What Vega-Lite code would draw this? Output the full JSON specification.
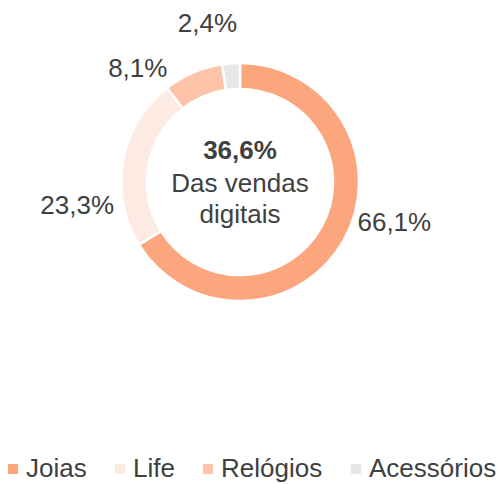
{
  "$schema": "https://vega.github.io/schema/vega-lite/v6.json",
  "width": 480,
  "height": 364,
  "padding": 0,
  "autosize": {"type": "pad"},
  "background": "white",
  "config": {"view": {"stroke": null}, "font": "Liberation Sans"},
  "layer": [
    {
      "data": {"name": "vendas", "values": [
        {"cat": "Joias", "valor": 66.1, "rotulo": "66,1%"},
        {"cat": "Life", "valor": 23.3, "rotulo": "23,3%"},
        {"cat": "Relógios", "valor": 8.1, "rotulo": "8,1%"},
        {"cat": "Acessórios", "valor": 2.4, "rotulo": "2,4%"}
      ]},
      "layer": [
        {
          "mark": {"type": "arc", "outerRadius": 119, "innerRadius": 93, "stroke": "white", "strokeWidth": 2.5},
          "encoding": {
            "theta": {"field": "valor", "type": "quantitative", "stack": true},
            "order": {"field": "valor", "sort": "descending"},
            "color": {
              "field": "cat", "type": "nominal",
              "sort": ["Joias", "Life", "Relógios", "Acessórios"],
              "scale": {"domain": ["Joias", "Life", "Relógios", "Acessórios"], "range": ["#FCA67E", "#FDEBE3", "#FEC4AA", "#E7E7E7"]},
              "legend": {
                "title": null, "orient": "none", "legendX": 0, "legendY": 456, "direction": "horizontal",
                "symbolType": "square", "symbolSize": 100, "symbolStrokeWidth": 0,
                "labelFontSize": 26, "labelColor": "#404040", "labelFont": "Liberation Sans",
                "labelOffset": 0, "columnPadding": 20, "padding": 0
              }
            }
          }
        },
        {
          "mark": {"type": "text", "radius": 140, "dx": 32, "dy": -27, "fontSize": 26, "color": "#404040"},
          "encoding": {
            "theta": {"field": "valor", "type": "quantitative", "stack": true},
            "order": {"field": "valor", "sort": "descending"},
            "detail": {"field": "cat"},
            "text": {"condition": {"test": "datum.cat === 'Joias'", "field": "rotulo"}, "value": ""}
          }
        },
        {
          "mark": {"type": "text", "radius": 140, "dx": -25, "dy": 49, "fontSize": 26, "color": "#404040"},
          "encoding": {
            "theta": {"field": "valor", "type": "quantitative", "stack": true},
            "order": {"field": "valor", "sort": "descending"},
            "detail": {"field": "cat"},
            "text": {"condition": {"test": "datum.cat === 'Life'", "field": "rotulo"}, "value": ""}
          }
        },
        {
          "mark": {"type": "text", "radius": 140, "dx": -47, "dy": 16, "fontSize": 26, "color": "#404040"},
          "encoding": {
            "theta": {"field": "valor", "type": "quantitative", "stack": true},
            "order": {"field": "valor", "sort": "descending"},
            "detail": {"field": "cat"},
            "text": {"condition": {"test": "datum.cat === 'Relógios'", "field": "rotulo"}, "value": ""}
          }
        },
        {
          "mark": {"type": "text", "radius": 140, "dx": -22, "dy": -18, "fontSize": 26, "color": "#404040"},
          "encoding": {
            "theta": {"field": "valor", "type": "quantitative", "stack": true},
            "order": {"field": "valor", "sort": "descending"},
            "detail": {"field": "cat"},
            "text": {"condition": {"test": "datum.cat === 'Acessórios'", "field": "rotulo"}, "value": ""}
          }
        }
      ]
    },
    {
      "data": {"values": [{"t": "36,6%"}]},
      "mark": {"type": "text", "fontSize": 26, "fontWeight": "bold", "color": "#404040", "dy": -31},
      "encoding": {"text": {"field": "t"}}
    },
    {
      "data": {"values": [{"t": "Das vendas"}]},
      "mark": {"type": "text", "fontSize": 26, "color": "#404040", "dy": 2},
      "encoding": {"text": {"field": "t"}}
    },
    {
      "data": {"values": [{"t": "digitais"}]},
      "mark": {"type": "text", "fontSize": 26, "color": "#404040", "dy": 33},
      "encoding": {"text": {"field": "t"}}
    }
  ]
}
